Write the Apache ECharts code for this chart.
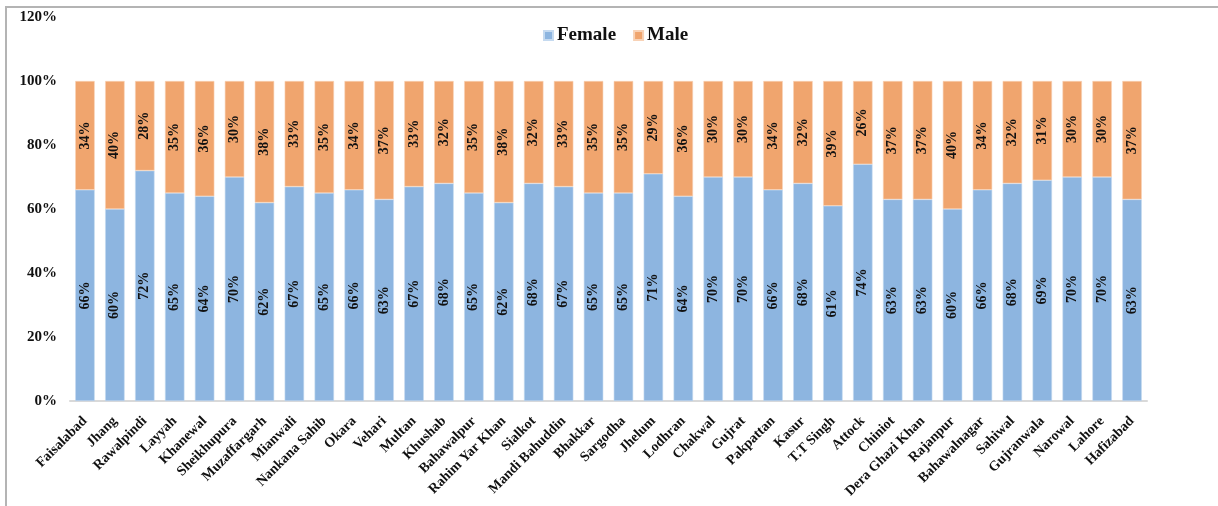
<!DOCTYPE html>
<html>
<head>
<meta charset="utf-8">
<script src="https://cdn.jsdelivr.net/npm/echarts@6/dist/echarts.min.js"></script>
<style>
  html, body { margin: 0; padding: 0; background: #ffffff; }
  #chart { width: 1218px; height: 506px; }
</style>
</head>
<body>
<div id="chart"></div>
<script>
// Districts, in plotted order
const districts = [
  'Faisalabad', 'Jhang', 'Rawalpindi', 'Layyah', 'Khanewal', 'Sheikhupura',
  'Muzaffargarh', 'Mianwali', 'Nankana Sahib', 'Okara', 'Vehari', 'Multan',
  'Khushab', 'Bahawalpur', 'Rahim Yar Khan', 'Sialkot', 'Mandi Bahuddin', 'Bhakkar',
  'Sargodha', 'Jhelum', 'Lodhran', 'Chakwal', 'Gujrat', 'Pakpattan',
  'Kasur', 'T.T Singh', 'Attock', 'Chiniot', 'Dera Ghazi Khan', 'Rajanpur',
  'Bahawalnagar', 'Sahiwal', 'Gujranwala', 'Narowal', 'Lahore', 'Hafizabad'
];

// Share of each district (percent)
const female = [66, 60, 72, 65, 64, 70, 62, 67, 65, 66, 63, 67, 68, 65, 62, 68, 67, 65,
                65, 71, 64, 70, 70, 66, 68, 61, 74, 63, 63, 60, 66, 68, 69, 70, 70, 63];
const male   = [34, 40, 28, 35, 36, 30, 38, 33, 35, 34, 37, 33, 32, 35, 38, 32, 33, 35,
                35, 29, 36, 30, 30, 34, 32, 39, 26, 37, 37, 40, 34, 32, 31, 30, 30, 37];

// Value axis ticks
const yTicks = { min: 0, max: 120, step: 20 };

const serif = '"Liberation Serif", "Times New Roman", serif';

const barLabel = {
  show: true,
  position: 'inside',
  rotate: 90,
  formatter: '{c}%',
  color: '#111111',
  fontFamily: serif,
  fontWeight: 'bold',
  fontSize: 14
};

const chart = echarts.init(document.getElementById('chart'), null, { renderer: 'canvas' });

chart.setOption({
  backgroundColor: '#ffffff',
  animation: false,
  graphic: [{
    type: 'rect',
    shape: { x: 6, y: 7, width: 1240, height: 520 },
    style: { fill: 'none', stroke: '#b4b4b4', lineWidth: 2 },
    silent: true
  }],
  legend: {
    left: 538,
    top: 21,
    icon: 'rect',
    itemWidth: 9,
    itemHeight: 9,
    itemGap: 17,
    textStyle: {
      fontFamily: serif,
      fontWeight: 'bold',
      fontSize: 19,
      color: '#111111',
      padding: [0, 0, 0, -1]
    },
    data: ['Female', 'Male']
  },
  grid: {
    left: 70,
    right: 71,
    top: 17,
    bottom: 105,
    containLabel: false
  },
  xAxis: {
    type: 'category',
    data: districts,
    axisLine: { show: true, lineStyle: { color: '#d9d9d9', width: 2 } },
    axisTick: { show: false },
    axisLabel: {
      interval: 0,
      rotate: 45,
      margin: 18,
      fontFamily: serif,
      fontWeight: 'bold',
      fontSize: 14,
      color: '#111111'
    }
  },
  yAxis: {
    type: 'value',
    min: yTicks.min,
    max: yTicks.max,
    interval: yTicks.step,
    axisLine: { show: false },
    axisTick: { show: false },
    splitLine: { show: false },
    axisLabel: {
      formatter: '{value}%',
      margin: 13,
      fontFamily: serif,
      fontWeight: 'bold',
      fontSize: 15,
      color: '#111111'
    }
  },
  series: [
    {
      name: 'Female',
      type: 'bar',
      stack: 'share',
      data: female,
      barCategoryGap: '35%',
      itemStyle: { color: '#8db5e0', borderColor: '#c5daf0', borderWidth: 0.6 },
      label: barLabel
    },
    {
      name: 'Male',
      type: 'bar',
      stack: 'share',
      data: male,
      barCategoryGap: '35%',
      itemStyle: { color: '#f0a56e', borderColor: '#f8d2b6', borderWidth: 0.6 },
      label: barLabel
    }
  ]
});
</script>
</body>
</html>
